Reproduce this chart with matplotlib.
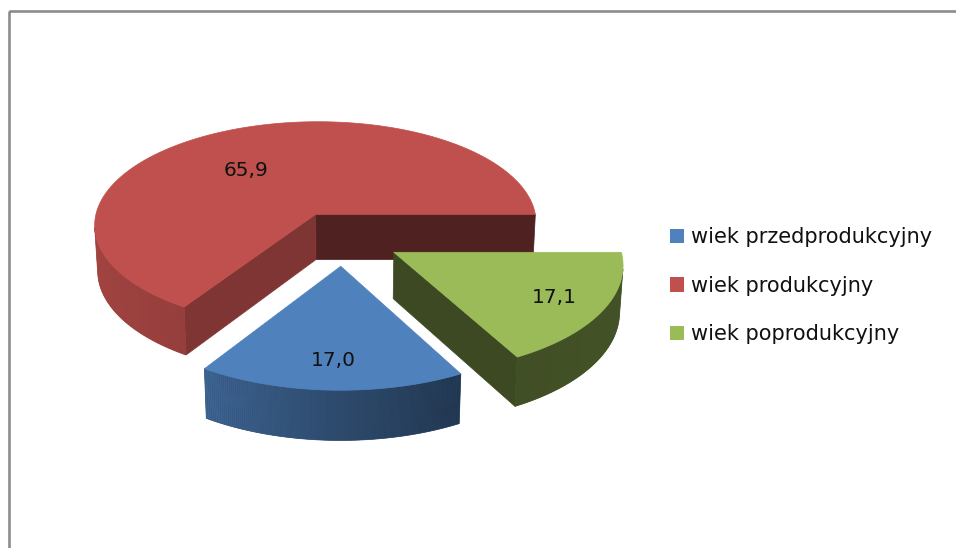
import numpy as np
import matplotlib
matplotlib.use('Agg')
import matplotlib.pyplot as plt
from matplotlib.patches import Polygon, Rectangle, Patch
from matplotlib.colors import to_rgb

plt.rcParams['font.family'] = ['DejaVu Sans']

# Data
labels = ['wiek przedprodukcyjny', 'wiek produkcyjny', 'wiek poprodukcyjny']
values = [17.0, 65.9, 17.1]
value_text = ['17,0', '65,9', '17,1']
colors = ['#4F81BD', '#C0504D', '#9BBB59']

# slices go counter-clockwise from 3 o'clock in this order
ring_order = [1, 0, 2]
# label placement on the top face: radius and angular shift per slice
label_r = [0.78, 0.56, 0.78]
label_shift = [0, 8, 0]

# 3D view (pixels)
W, H = 956, 548
cx, cy = 343, 238
S = 224.6
D = 9.05
s = 0.472
c = np.sqrt(1 - s ** 2)
explode = 0.26
thick = 0.235
cam = np.array([0.0, -D * c, D * s])


def project(x, y, z):
    v = y * s + z * c
    w = y * c - z * s
    k = D / (D + w)
    return cx + S * x * k, cy - S * v * k


def shade(color, b):
    return tuple(np.clip(np.array(to_rgb(color)) * b, 0, 1))


def wall_brightness(a):
    return np.interp(a % 360, [150, 180, 237, 270, 298, 360], [0.88, 0.87, 0.78, 0.57, 0.42, 0.45])


def face_brightness(n):
    return np.interp(n % 360, [208, 270, 327], [0.39, 0.41, 0.66])


def facing(normal, point):
    return np.dot(normal, cam - point) > 0


fig = plt.figure(figsize=(9.56, 5.48), dpi=100)
ax = fig.add_axes([0, 0, 1, 1])
ax.set_xlim(0, W)
ax.set_ylim(H, 0)
ax.axis('off')

# frame
ax.add_patch(Rectangle((8.7, 11.3), 2000, 2000, fill=False, edgecolor='#8c8c8c', lw=1.9))

total = sum(values)
slices = []
start = 0.0
for i in ring_order:
    span = 360.0 * values[i] / total
    a0, a1 = start, start + span
    mid = np.radians((a0 + a1) / 2)
    off = explode * np.array([np.cos(mid), np.sin(mid)])
    slices.append((i, a0, a1, off))
    start = a1

# back slices first
slices.sort(key=lambda t: -t[3][1])

for i, a0, a1, off in slices:
    col = colors[i]
    ox, oy = off
    ang = np.linspace(a0, a1, 120)
    rad = np.radians(ang)
    ex, ey = ox + np.cos(rad), oy + np.sin(rad)

    # radial cut faces
    for a, sign in [(a0, -1), (a1, 1)]:
        r = np.radians(a)
        nrm_deg = a + sign * 90
        nrm = np.array([np.cos(np.radians(nrm_deg)), np.sin(np.radians(nrm_deg)), 0])
        px, py = ox + 0.5 * np.cos(r), oy + 0.5 * np.sin(r)
        if not facing(nrm, np.array([px, py, -thick / 2])):
            continue
        pts = [project(ox, oy, 0), project(ox + np.cos(r), oy + np.sin(r), 0),
               project(ox + np.cos(r), oy + np.sin(r), -thick), project(ox, oy, -thick)]
        fc = shade(col, face_brightness(nrm_deg))
        ax.add_patch(Polygon(pts, closed=True, facecolor=fc, edgecolor=fc, lw=0.5))

    # curved outer wall: a flat base, then thin shaded strips over it
    vis = []
    for k in range(len(ang) - 1):
        am = np.radians((ang[k] + ang[k + 1]) / 2)
        nrm = np.array([np.cos(am), np.sin(am), 0])
        p = np.array([ox + np.cos(am), oy + np.sin(am), -thick / 2])
        if facing(nrm, p):
            vis.append(k)
    if vis:
        k0, k1 = vis[0], vis[-1] + 1
        base = [project(ex[k], ey[k], 0) for k in range(k0, k1 + 1)] + \
               [project(ex[k], ey[k], -thick) for k in range(k1, k0 - 1, -1)]
        bc = shade(col, wall_brightness((ang[k0] + ang[k1]) / 2))
        ax.add_patch(Polygon(base, closed=True, facecolor=bc, edgecolor=bc, lw=0.5))
    for k in vis:
        am = (ang[k] + ang[k + 1]) / 2
        pts = [project(ex[k], ey[k], 0), project(ex[k + 1], ey[k + 1], 0),
               project(ex[k + 1], ey[k + 1], -thick), project(ex[k], ey[k], -thick)]
        fc = shade(col, wall_brightness(am))
        ax.add_patch(Polygon(pts, closed=True, facecolor=fc, edgecolor='none', lw=0))

    # top face
    top = [project(ox, oy, 0)] + [project(x, y, 0) for x, y in zip(ex, ey)]
    ax.add_patch(Polygon(top, closed=True, facecolor=col, edgecolor=col, lw=0.5))

    # value label
    la = np.radians((a0 + a1) / 2 + label_shift[i])
    lx, ly = project(ox + label_r[i] * np.cos(la), oy + label_r[i] * np.sin(la), 0)
    ax.text(lx, ly, value_text[i], ha='center', va='center', fontsize=14.5, color='#111111')

handles = [Patch(facecolor=c_, edgecolor='none') for c_ in colors]
ax.legend(handles, labels, loc='upper left', bbox_to_anchor=(670 / W, 1 - 227 / H),
          frameon=False, fontsize=15, handlelength=0.68, handleheight=0.68,
          handletextpad=0.33, labelspacing=1.38, borderpad=0, borderaxespad=0,
          labelcolor='#111111')

fig.savefig('out.png', dpi=100)
